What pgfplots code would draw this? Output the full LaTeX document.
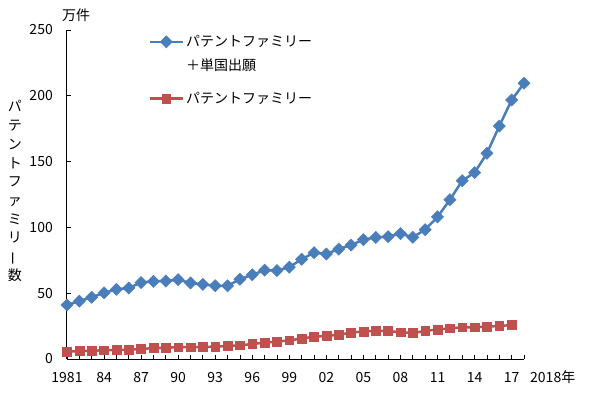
\documentclass[border=0pt]{standalone}
\usepackage{pgfplots}
\pgfplotsset{compat=1.18}
\usepackage{pgfplotstable}
\usepackage{fontspec}
\setmainfont{Noto Sans CJK JP}
\definecolor{eblue}{HTML}{4A7EBB}
\definecolor{ered}{HTML}{C0504D}
\pgfplotstableread{
year val
1981 41.0
1982 44.0
1983 46.9
1984 50.3
1985 52.9
1986 54.0
1987 58.1
1988 59.0
1989 59.2
1990 60.3
1991 57.8
1992 56.7
1993 55.7
1994 55.6
1995 60.6
1996 64.0
1997 67.5
1998 67.2
1999 69.8
2000 75.8
2001 80.8
2002 79.8
2003 83.5
2004 86.6
2005 90.7
2006 92.4
2007 93.0
2008 95.3
2009 92.5
2010 98.3
2011 108.0
2012 121.0
2013 135.5
2014 141.6
2015 156.3
2016 177.0
2017 196.8
2018 209.5
}\blueseries
\pgfplotstableread{
year val
1981 5.6
1982 6.0
1983 6.3
1984 6.6
1985 6.8
1986 7.1
1987 7.6
1988 8.3
1989 8.6
1990 8.9
1991 9.0
1992 9.2
1993 9.4
1994 9.9
1995 10.4
1996 11.4
1997 12.4
1998 13.2
1999 14.2
2000 15.5
2001 17.0
2002 17.5
2003 18.5
2004 20.0
2005 21.0
2006 21.3
2007 21.3
2008 20.3
2009 19.8
2010 21.3
2011 22.5
2012 23.3
2013 24.1
2014 24.1
2015 24.6
2016 25.1
2017 25.8
}\redseries
\begin{document}
\begin{tikzpicture}[x=1pt,y=1pt]
\useasboundingbox (-67,-33) rectangle (533,359);
\begin{axis}[
  at={(0,0)}, anchor=south west,
  scale only axis, width=457pt, height=329pt,
  xmin=1981, xmax=2018, ymin=0, ymax=250,
  axis lines=left, axis line style={-, black, line width=1pt},
  tick align=inside, major tick length=4pt, minor tick length=4pt,
  tick style={black, line width=0.8pt},
  xtick={1981,1984,...,2017},
  xticklabels={1981,84,87,90,93,96,99,02,05,08,11,14,17},
  minor xtick={1981,...,2018},
  ytick={0,50,...,250},
  /pgf/number format/assume math mode=true,
  font=\fontsize{14}{16}\selectfont,
  xticklabel style={anchor=base, inner sep=0pt, yshift=-23pt},
  yticklabel style={anchor=east, inner sep=0pt, xshift=-14pt},
  ylabel={パ\\テ\\ン\\ト\\フ\\ァ\\ミ\\リ\\\rotatebox[origin=c]{90}{ー}\\数},
  ylabel style={rotate=-90, anchor=center, align=center,
    font=\fontsize{14}{18.7}\selectfont,
    at={(axis description cs:-0.1138,0.5106)}},
  legend cell align=left,
  legend style={draw=none, fill=none, at={(axis description cs:0.178,0.99)},
    anchor=north west, inner sep=0pt, row sep=6pt,
    cells={anchor=base west},
    nodes={inner sep=2pt}, font=\fontsize{14}{16}\selectfont},
  legend image code/.code={\draw[mark repeat=2,mark phase=2] plot coordinates {(0pt,5pt) (16.5pt,5pt) (33pt,5pt)};},
]
\addplot[color=eblue, line width=2.5pt, mark=square*,
  mark options={solid, rotate=45, line width=0.5pt, fill=eblue}, mark size=4.3pt]
  table[x=year, y=val] {\blueseries};
\addlegendentry{パテントファミリー}
\addlegendimage{empty legend}
\addlegendentry{＋単国出願}
\addplot[color=ered, line width=2.5pt, mark=square*,
  mark options={solid, line width=0.5pt, fill=ered}, mark size=4.4pt]
  table[x=year, y=val] {\redseries};
\addlegendentry{\rule{0pt}{22pt}パテントファミリー}
\end{axis}
\node[font=\fontsize{14}{16}\selectfont, anchor=base west, inner sep=0pt] at (463,-23) {2018年};
\node[font=\fontsize{14}{16}\selectfont, inner sep=0pt] at (9,344) {万件};
\end{tikzpicture}
\end{document}
